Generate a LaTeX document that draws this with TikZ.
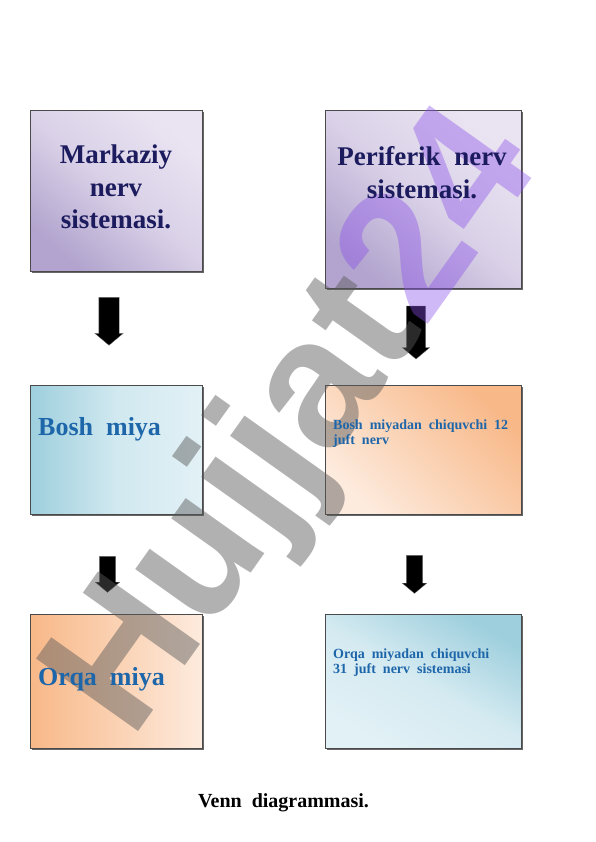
\documentclass[tikz,border=0pt]{standalone}
\usepackage{fontspec}
\setmainfont{Liberation Serif}
\newfontfamily\wmfont{Liberation Sans}
\usetikzlibrary{shapes.arrows,shadows}
\definecolor{navytext}{HTML}{1B1B5E}
\definecolor{bluetext}{HTML}{1E66AA}
\definecolor{boxline}{HTML}{4A4A4A}
\definecolor{purpleA}{HTML}{B2A4CE}
\definecolor{purpleB}{HTML}{EAE4F2}
\definecolor{blueA}{HTML}{9ECFDD}
\definecolor{blueB}{HTML}{E2F1F6}
\definecolor{orangeA}{HTML}{F8B888}
\definecolor{orangeB}{HTML}{FDEBDE}
\definecolor{wmgray}{HTML}{5A5A5A}
\definecolor{wmpurple}{HTML}{8A4FEA}
\tikzset{
  box/.style={draw=boxline, line width=0.6pt, inner sep=0pt, anchor=north west,
    drop shadow={shadow xshift=1.5pt, shadow yshift=-1.5pt, fill=black!75, opacity=0.8}},
  purplebox/.style={box, top color=purpleB, bottom color=purpleA, middle color=purpleB!70!purpleA, shading angle=-40},
  blueboxl/.style={box, left color=blueA, right color=blueB, middle color=blueB!75!blueA},
  bluebox/.style={box, left color=blueA, right color=blueB, middle color=blueB!80!blueA, shading angle=-30},
  orangebox/.style={box, top color=orangeA, bottom color=orangeB, shading angle=-45},
  orangeboxl/.style={box, left color=orangeA, right color=orangeB},
  bigtitle/.style={inner sep=0pt, text=navytext, align=center, font=\bfseries\fontsize{27}{32.5}\selectfont},
  bigblue/.style={inner sep=0pt, text=bluetext, font=\bfseries\fontsize{26}{30}\selectfont},
  smallblue/.style={inner sep=0pt, text=bluetext, align=left, font=\bfseries\fontsize{14}{14.8}\selectfont},
  blockarrow/.style={single arrow, fill=black, draw=black!55, line width=0.3pt, inner sep=0pt, rotate=-90,
    text depth=0pt, single arrow head extend=4pt, single arrow tip angle=100},
  wmark/.style={rotate=54.6, inner sep=0pt, font=\wmfont\bfseries\fontsize{182}{182}\selectfont},
}
\begin{document}
\begin{tikzpicture}[x=1pt,y=-1pt]
\useasboundingbox (0,0) rectangle (596,842);
% boxes
\node[purplebox, minimum width=172pt, minimum height=161pt] (b1) at (30,110) {};
\node[purplebox, minimum width=196pt, minimum height=178pt] (b2) at (325,110) {};
\node[blueboxl, minimum width=172pt, minimum height=129pt] (b3) at (30,385) {};
\node[orangebox, minimum width=196pt, minimum height=129pt] (b4) at (325,385) {};
\node[orangeboxl, minimum width=172pt, minimum height=134pt] (b5) at (30,614) {};
\node[bluebox, minimum width=196pt, minimum height=134pt] (b6) at (325,614) {};
% arrows
\node[blockarrow, text height=20pt, minimum height=48pt] (a1) at (109,317) {};
\node[blockarrow, text height=19pt, minimum height=53pt] (a2) at (416,328.5) {};
\node[blockarrow, text height=16pt, minimum height=36pt] (a3) at (107.5,571) {};
\node[blockarrow, text height=16pt, minimum height=38pt] (a4) at (414.5,571) {};
% watermark
\coordinate (wmj) at (424.8,329.4);
\node[wmark, anchor=base east, text=wmgray, text opacity=0.47] (wm1) at (wmj) {Hujjat};
\node[wmark, anchor=base west, text=wmpurple, text opacity=0.4] (wm2) at (wmj) {24};
% texts
\node[bigtitle, anchor=north] (t1) at (116,144.7) {Markaziy\\nerv\\sistemasi.};
\node[bigtitle, anchor=north] (t2) at (422,146.5) {Periferik\ \ nerv\\sistemasi.};
\node[bigblue, anchor=base west] (t3) at (38,435) {Bosh\ \ miya};
\node[smallblue, anchor=north west] (t4) at (333,419.5) {Bosh\ \ miyadan\ \ chiquvchi\ \ 12\\juft\ \ nerv};
\node[bigblue, anchor=base west] (t5) at (38,685) {Orqa\ \ miya};
\node[smallblue, anchor=north west, font=\bfseries\fontsize{14}{15}\selectfont] (t6) at (333,648.5) {Orqa\ \ miyadan\ \ chiquvchi\\31\ \ juft\ \ nerv\ \ sistemasi};
\node[inner sep=0pt, anchor=base, font=\bfseries\fontsize{20}{24}\selectfont] (venn) at (283.5,807) {Venn\ \ diagrammasi.};
\end{tikzpicture}
\end{document}
